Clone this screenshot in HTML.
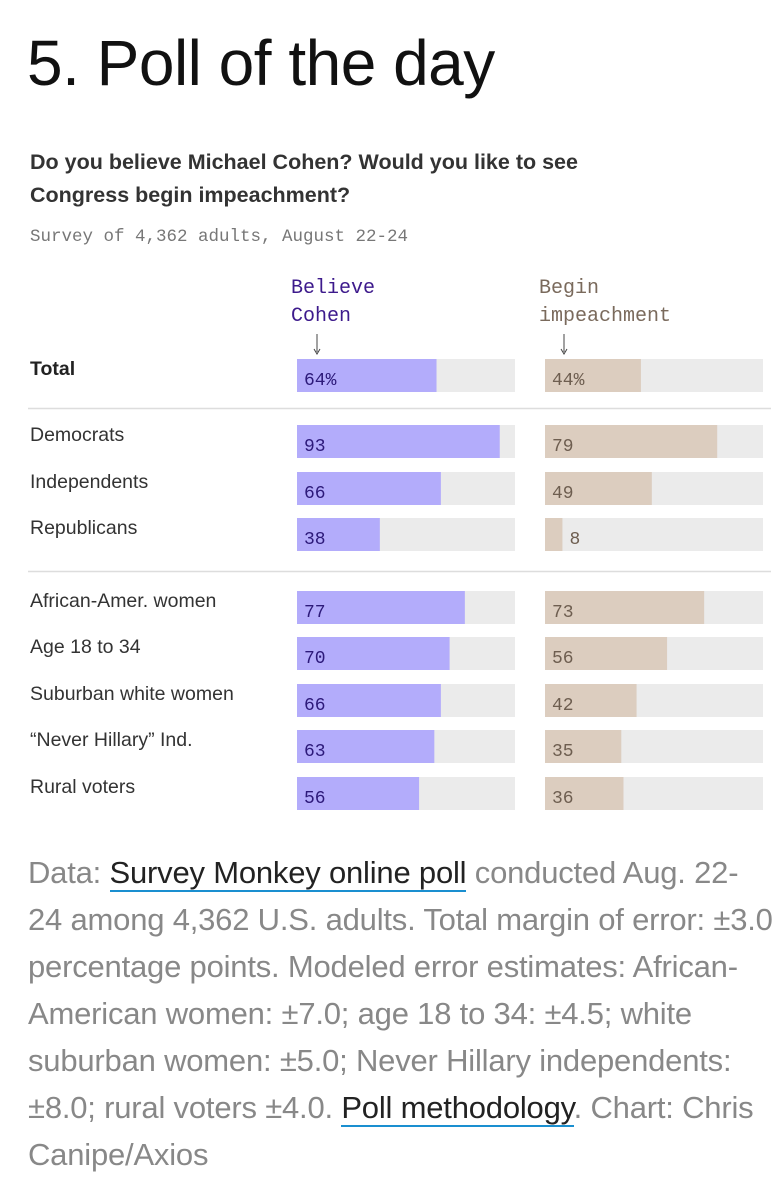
<!DOCTYPE html>
<html><head><meta charset="utf-8"><style>
body{margin:0;width:783px;height:1200px;background:#fff;font-family:"Liberation Sans",sans-serif;overflow:hidden;position:relative}
#title{position:absolute;left:27px;top:26px;font-size:64px;color:#111;letter-spacing:-0.5px;margin:0;font-weight:normal}
#q{position:absolute;left:30px;top:146px;font-size:21.5px;font-weight:bold;color:#333;line-height:33px;white-space:nowrap}
#sub{position:absolute;left:30px;top:227px;font-family:"Liberation Mono",monospace;font-size:17.5px;color:#777;white-space:nowrap}
svg{position:absolute;left:0;top:0}
#note{position:absolute;left:28px;top:849px;font-size:31px;line-height:47px;color:#888;white-space:nowrap;letter-spacing:-0.2px}
#note a{color:#222;text-decoration:none;border-bottom:2px solid #1a8fd0}
</style></head><body>
<h1 id="title">5. Poll of the day</h1>
<div id="q">Do you believe Michael Cohen? Would you like to see<br>Congress begin impeachment?</div>
<div id="sub">Survey of 4,362 adults, August 22-24</div>
<svg id="chart" width="783" height="840"></svg>
<div id="note">Data: <a>Survey Monkey online poll</a> conducted Aug. 22-<br>24 among 4,362 U.S. adults. Total margin of error: ±3.0<br>percentage points. Modeled error estimates: African-<br>American women: ±7.0; age 18 to 34: ±4.5; white<br>suburban women: ±5.0; Never Hillary independents:<br>±8.0; rural voters ±4.0. <a>Poll methodology</a>. Chart: Chris<br>Canipe/Axios</div>
<script>
const categories=["Total","Democrats","Independents","Republicans","African-Amer. women","Age 18 to 34","Suburban white women","\u201cNever Hillary\u201d Ind.","Rural voters"];
const believe=[64,93,66,38,77,70,66,63,56];
const impeach=[44,79,49,8,73,56,42,35,36];
const rowTops=[359,425,472,518,591,637,684,730,777];
const NS="http://www.w3.org/2000/svg";
const svg=document.getElementById('chart');
function mk(t,a,txt){const e=document.createElementNS(NS,t);for(const k in a)e.setAttribute(k,a[k]);if(txt!=null)e.textContent=txt;svg.appendChild(e);return e;}
const scale=218;
function xL(v){return 297+v/100*scale;}
function xR(v){return 545+v/100*scale;}
let e;
e=mk('text',{x:291,y:293,'font-family':'Liberation Mono,monospace','font-size':20,fill:'#3d1a8c'},'Believe');

mk('text',{x:291,y:321,'font-family':'Liberation Mono,monospace','font-size':20,fill:'#3d1a8c'},'Cohen');
e=mk('text',{x:539,y:293,'font-family':'Liberation Mono,monospace','font-size':20,fill:'#7a6a5c'},'Begin');

mk('text',{x:539,y:321,'font-family':'Liberation Mono,monospace','font-size':20,fill:'#7a6a5c'},'impeachment');
mk('line',{x1:317,y1:334,x2:317,y2:352,stroke:'#444','stroke-width':1});
mk('path',{d:'M314,349 L317,354 L320,349',fill:'none',stroke:'#444'});
mk('line',{x1:564,y1:334,x2:564,y2:352,stroke:'#444','stroke-width':1});
mk('path',{d:'M561,349 L564,354 L567,349',fill:'none',stroke:'#444'});
e=mk('line',{x1:28,y1:408.5,x2:771,y2:408.5,stroke:'#ddd','stroke-width':1.5});

e=mk('line',{x1:28,y1:571.5,x2:771,y2:571.5,stroke:'#ddd','stroke-width':1.5});

categories.forEach((c,i)=>{
  const y=rowTops[i],h=33;
  e=mk('text',{x:30,y:y+16,'font-size':19.5,fill:i==0?'#222':'#333','font-weight':i==0?'bold':'normal'},c);
  
  mk('rect',{x:297,y:y,width:scale,height:h,fill:'#ebebeb'});
  e=mk('rect',{x:297,y:y,width:xL(believe[i])-297,height:h,fill:'#b3acfb'});
  
  e=mk('text',{x:304,y:y+26,'font-family':'Liberation Mono,monospace','font-size':18,fill:'#2d1a7a'},believe[i]+(i==0?'%':''));
  
  mk('rect',{x:545,y:y,width:218,height:h,fill:'#ebebeb'});
  e=mk('rect',{x:545,y:y,width:xR(impeach[i])-545,height:h,fill:'#dccdbf'});
  
  const tx=impeach[i]<15?xR(impeach[i])+7:552;
  e=mk('text',{x:tx,y:y+26,'font-family':'Liberation Mono,monospace','font-size':18,fill:'#6e5e50'},impeach[i]+(i==0?'%':''));
  
});
</script>
</body></html>
